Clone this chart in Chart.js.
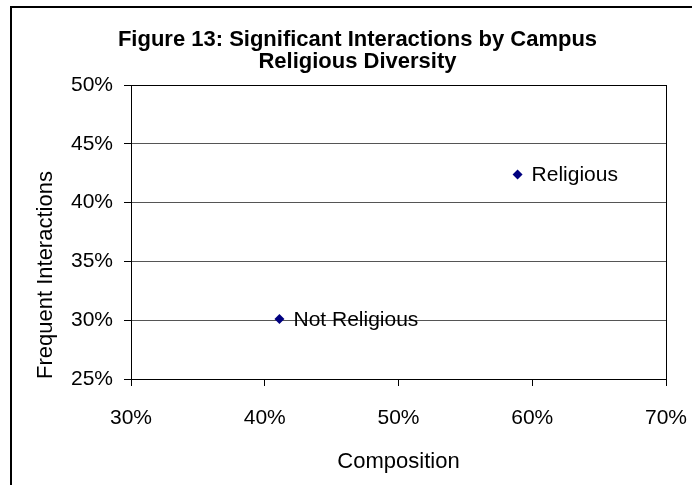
<!DOCTYPE html>
<html>
<head>
<meta charset="utf-8">
<script src="https://cdn.jsdelivr.net/npm/chart.js@4/dist/chart.umd.min.js"></script>
<style>
  html, body { margin: 0; padding: 0; background: #fff; }
  canvas { display: block; }
</style>
</head>
<body>
<canvas id="chart" width="692" height="485"></canvas>
<script>
// Chart data
const titleLines = ["Figure 13: Significant Interactions by Campus", "Religious Diversity"];
const pointLabels = ["Not Religious", "Religious"];
const composition = [41.1, 58.9];          // x, percent
const frequentInteractions = [30.1, 42.4]; // y, percent
const xTicks = [30, 40, 50, 60, 70];
const yTicks = [25, 30, 35, 40, 45, 50];

const FONT = "'Liberation Sans', Arial, sans-serif";

// Outer frame plus plot area border (top and right edges)
const framePlugin = {
  id: "frame",
  beforeDatasetsDraw(chart) {
    const ctx = chart.ctx;
    const a = chart.chartArea;
    ctx.save();
    ctx.strokeStyle = "#000";
    ctx.lineWidth = 1;
    ctx.strokeRect(Math.round(a.left) + 0.5, Math.round(a.top) + 0.5,
      Math.round(a.right - a.left), Math.round(a.bottom - a.top));
    ctx.restore();
  },
  afterDraw(chart) {
    const ctx = chart.ctx;
    ctx.save();
    ctx.strokeStyle = "#000";
    ctx.lineWidth = 2;
    ctx.beginPath();
    ctx.moveTo(11, chart.height + 2);
    ctx.lineTo(11, 7);
    ctx.lineTo(chart.width + 2, 7);
    ctx.stroke();
    ctx.restore();
  }
};

// Labels to the right of each point
const labelPlugin = {
  id: "pointNames",
  afterDatasetsDraw(chart) {
    const ctx = chart.ctx;
    const meta = chart.getDatasetMeta(0);
    ctx.save();
    ctx.font = "21px " + FONT;
    ctx.fillStyle = "#000";
    ctx.textAlign = "left";
    ctx.textBaseline = "middle";
    meta.data.forEach((pt, i) => {
      ctx.fillText(pointLabels[i], pt.x + 14, pt.y + 1);
    });
    ctx.restore();
  }
};

const points = composition.map((x, i) => ({ x: x, y: frequentInteractions[i] }));

new Chart(document.getElementById("chart"), {
  type: "scatter",
  data: {
    datasets: [{
      data: points,
      pointStyle: "rectRot",
      pointRadius: 5,
      pointHoverRadius: 5,
      backgroundColor: "#000080",
      borderColor: "#000080",
      borderWidth: 0
    }]
  },
  options: {
    responsive: false,
    animation: false,
    layout: { padding: { left: 23, top: 0, right: 0, bottom: 0 } },
    plugins: {
      legend: { display: false },
      tooltip: { enabled: false },
      title: {
        display: true,
        text: titleLines,
        color: "#000",
        font: { family: FONT, size: 22, weight: "bold", lineHeight: "22px" },
        padding: { top: 29, bottom: 12 }
      }
    },
    scales: {
      x: {
        type: "linear",
        min: 30,
        max: 70,
        afterBuildTicks: s => { s.ticks = xTicks.map(v => ({ value: v })); },
        afterFit: s => {
          s.height = 106;
          s.paddingLeft = 0;
          s.paddingRight = 26;
        },
        border: { color: "#000", width: 1 },
        grid: { drawOnChartArea: false, drawTicks: true, tickLength: 7, tickColor: "#000" },
        ticks: {
          color: "#000",
          padding: 20,
          maxRotation: 0,
          font: { family: FONT, size: 21 },
          callback: v => v + "%"
        },
        title: {
          display: true,
          text: "Composition",
          color: "#000",
          font: { family: FONT, size: 22 },
          padding: { top: 0, bottom: 10 }
        }
      },
      y: {
        type: "linear",
        min: 25,
        max: 50,
        afterBuildTicks: s => { s.ticks = yTicks.map(v => ({ value: v })); },
        afterFit: s => { s.width = 108; },
        border: { color: "#000", width: 1 },
        grid: { color: "#555", tickLength: 7, tickColor: "#000" },
        ticks: {
          color: "#000",
          padding: 11,
          font: { family: FONT, size: 21 },
          callback: v => v + "%"
        },
        title: {
          display: true,
          text: "Frequent Interactions",
          align: "start",
          color: "#000",
          font: { family: FONT, size: 22 },
          padding: { top: 10, bottom: 0 }
        }
      }
    }
  },
  plugins: [framePlugin, labelPlugin]
});
</script>
</body>
</html>
